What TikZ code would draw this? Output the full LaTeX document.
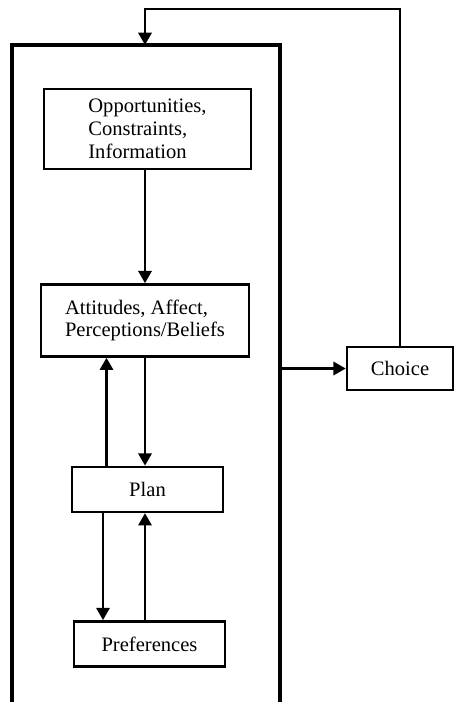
\documentclass[tikz,border=0pt]{standalone}
\usepackage{fontspec}
\setmainfont{Liberation Serif}
\usepackage{tikz}
\usetikzlibrary{positioning}
\usetikzlibrary{arrows.meta}
\tikzstyle{box} = [rectangle, draw=black, line width=1.4pt, inner sep=0pt, align=left, font=\fontsize{11.7}{13}\selectfont]
\tikzstyle{frame} = [draw=black, line width=1.8pt]
\tikzstyle{arrow} = [line width=1.5pt,-{Triangle[length=7pt,width=7.5pt]}]

\begin{document}
\begin{tikzpicture}[node distance=1cm]
\useasboundingbox (0,0) rectangle (9.08,-14.04);

\node (opp) [box, minimum width=4.14cm, minimum height=1.6cm] at (2.95,-2.58) {Opportunities,\\Constraints,\\Information};
\node (att) [box, below=2.26cm of opp, xshift=-0.05cm, minimum width=4.16cm, minimum height=1.44cm] {Attitudes, Affect,\\Perceptions/Beliefs};
\node (plan) [box, below=2.16cm of att, xshift=0.05cm, minimum width=3.02cm, minimum height=0.9cm] {Plan};
\node (pref) [box, below=2.14cm of plan, xshift=0.04cm, minimum width=3.02cm, minimum height=0.9cm] {Preferences};
\node (choice) [box, minimum width=2.12cm, minimum height=0.86cm] at (8.0,-7.37) {Choice};

% outer frame, open at the bottom
\draw [frame] (0.24,-14.04) -- (0.24,-0.9) -- (5.6,-0.9) -- (5.6,-14.04);
\coordinate (frametop) at (2.9,-0.9);
\coordinate (frameexit) at (5.6,-7.37);
\coordinate (loopright) at (8.0,-0.18);
\coordinate (loopleft) at (2.9,-0.18);

\draw [arrow] (opp.south -| att.south) -- (att.north);
\draw [arrow] (att.south) -- (att.south |- plan.north);
\draw [arrow] ([xshift=-0.82cm]plan.north) -- ([xshift=-0.82cm]plan.north |- att.south);
\draw [arrow] ([xshift=-0.89cm]plan.south) -- ([xshift=-0.89cm]plan.south |- pref.north);
\draw [arrow] (pref.north -| att.south) -- (att.south |- plan.south);
\draw [arrow] (frameexit) -- (choice.west);
\draw [arrow] (choice.north) -- (loopright) -- (loopleft) -- (frametop);

\end{tikzpicture}
\end{document}
